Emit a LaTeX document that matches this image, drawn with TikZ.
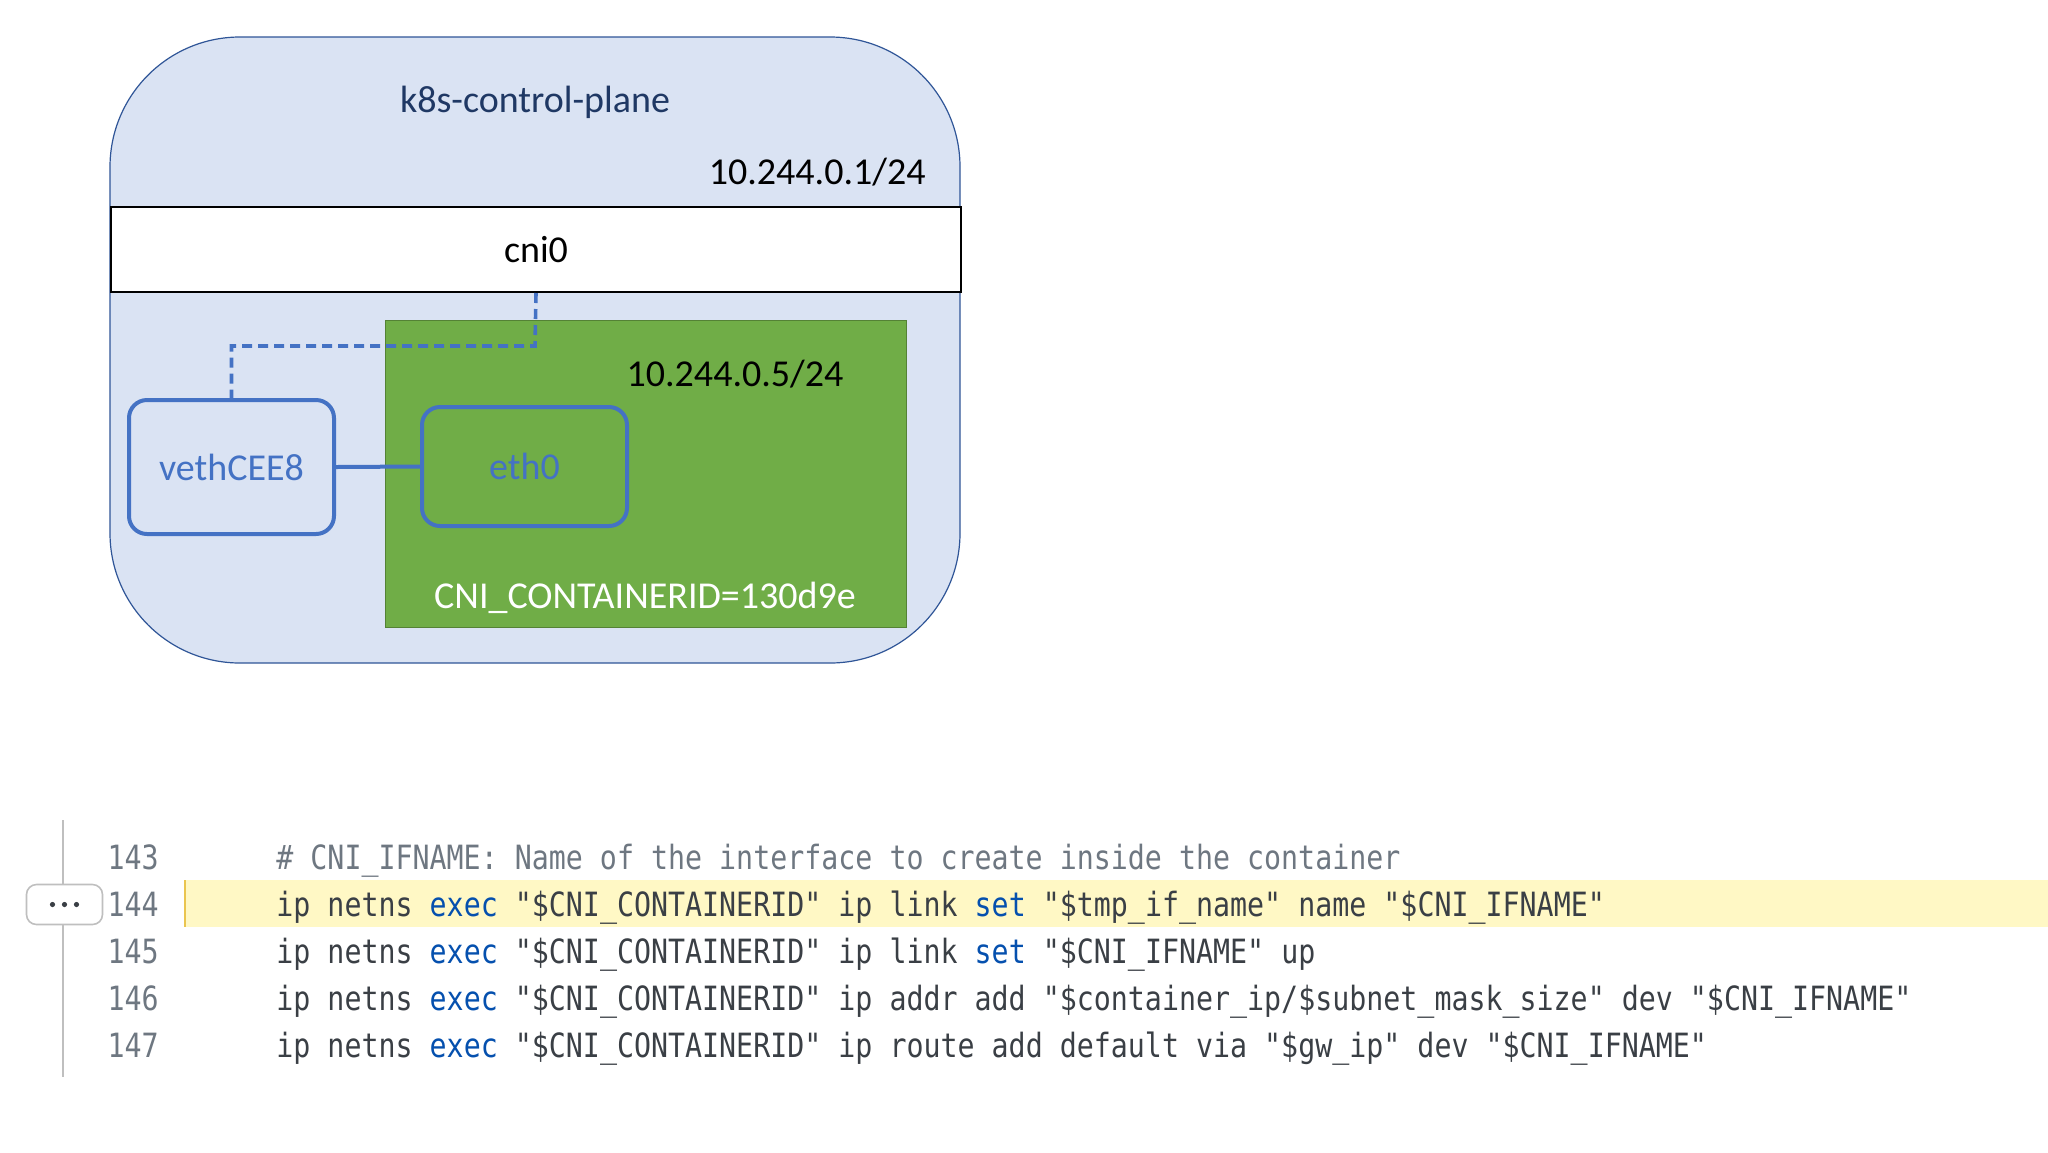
\documentclass[tikz,border=0pt]{standalone}
\usepackage{fontspec}
\setmainfont{Carlito}
\newfontfamily\codefont{DejaVu Sans Mono}[FakeStretch=0.847]
\definecolor{bgblue}{HTML}{DAE3F3}
\definecolor{edgeblue}{HTML}{2F5597}
\definecolor{boxblue}{HTML}{4472C4}
\definecolor{cgreen}{HTML}{70AD47}
\definecolor{cgreenb}{HTML}{548235}
\definecolor{codegray}{HTML}{3A3F45}
\definecolor{numgray}{HTML}{6E7781}
\definecolor{kwblue}{HTML}{0550AE}
\definecolor{hl}{HTML}{FFF8C5}
\definecolor{hlb}{HTML}{EAC54F}
\definecolor{titleblue}{HTML}{1F3864}
\tikzset{
  lbl/.style={inner sep=0pt, font=\fontsize{19}{22}\selectfont},
  iface/.style={draw=boxblue, line width=2pt, rounded corners=9pt},
  code/.style={inner sep=0pt, anchor=base west, text=codegray, font=\codefont\fontsize{16.7}{20}\selectfont},
  lnum/.style={inner sep=0pt, anchor=base east, text=numgray, font=\codefont\fontsize{16.7}{20}\selectfont},
}
\newcommand{\kw}[1]{\textcolor{kwblue}{#1}}
\begin{document}
\begin{tikzpicture}[x=0.5pt,y=-0.5pt]
\useasboundingbox (0,0) rectangle (2048,1152);
% outer host
\draw[fill=bgblue, draw=edgeblue, line width=0.6pt, rounded corners=65pt] (110,37) rectangle (960,663);
\node[lbl, text=titleblue] (title) at (535,102) {k8s-control-plane};
\node[lbl, anchor=east] (hostip) at (926,172) {10.244.0.1/24};
% cni0
\node[draw=black, fill=white, line width=1pt, minimum width=425pt, minimum height=42.5pt, inner sep=0pt, anchor=north west, font=\fontsize{19}{22}\selectfont] (cni) at (110,206) {cni0};
% container
\node[draw=cgreenb, fill=cgreen, line width=0.6pt, minimum width=260.5pt, minimum height=153.5pt, anchor=north west, inner sep=0pt] (ctr) at (385,320) {};
\node[lbl] (ctrip) at (735,374) {10.244.0.5/24};
\node[lbl, text=white] (cid) at (645,598) {CNI\_CONTAINERID=130d9e};
% interfaces
\node[iface, minimum width=102.5pt, minimum height=67pt, lbl, text=boxblue] (veth) at (231.5,467) {vethCEE8};
\node[iface, minimum width=102.5pt, minimum height=59.5pt, lbl, text=boxblue] (eth) at (524.5,466.5) {eth0};
\draw[boxblue, line width=2pt] (veth.east) -- (eth.west);
\coordinate (bend1) at (535,346);
\coordinate (bend2) at (231.5,346);
\draw[boxblue, line width=1.8pt, dash pattern=on 5pt off 3pt] (cni.south) -- (bend1) -- (bend2) -- (veth.north);
% code panel
\fill[hl] (184,880) rectangle (2048,927);
\draw[hlb, line width=1.2pt] (185,880) -- (185,927);
\draw[black!25, line width=1pt] (63,820) -- (63,1077);
\node[draw=black!25, fill=white, rounded corners=5pt, line width=0.8pt, minimum width=38pt, minimum height=20pt, inner sep=0pt, text=codegray] (dots) at (64.5,904.5) {\tikz[baseline]{\foreach \i in {-1,0,1} \fill (\i*6pt,0) circle (1.3pt);}};
\begin{scope}
\clip (0,819) rectangle (2048,1152);
\node[lnum] (n142) at (159,813) {142};
\end{scope}
\node[lnum] (n143) at (159,869) {143};
\node[lnum] (n144) at (159,916) {144};
\node[lnum] (n145) at (159,963) {145};
\node[lnum] (n146) at (159,1010) {146};
\node[lnum] (n147) at (159,1057) {147};
\node[code, text=numgray] (c143) at (276,869) {\# CNI\_IFNAME: Name of the interface to create inside the container};
\node[code] (c144) at (276,916) {ip netns \kw{exec} "\$CNI\_CONTAINERID" ip link \kw{set} "\$tmp\_if\_name" name "\$CNI\_IFNAME"};
\node[code] (c145) at (276,963) {ip netns \kw{exec} "\$CNI\_CONTAINERID" ip link \kw{set} "\$CNI\_IFNAME" up};
\node[code] (c146) at (276,1010) {ip netns \kw{exec} "\$CNI\_CONTAINERID" ip addr add "\$container\_ip/\$subnet\_mask\_size" dev "\$CNI\_IFNAME"};
\node[code] (c147) at (276,1057) {ip netns \kw{exec} "\$CNI\_CONTAINERID" ip route add default via "\$gw\_ip" dev "\$CNI\_IFNAME"};
\end{tikzpicture}
\end{document}
